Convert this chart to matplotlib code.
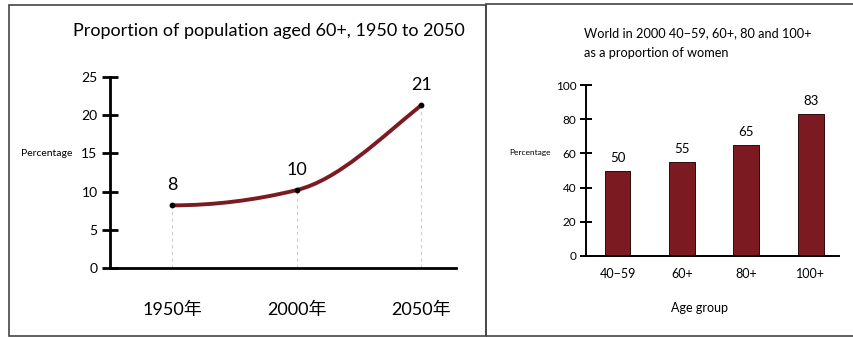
import matplotlib.pyplot as plt
from matplotlib.path import Path
from matplotlib.patches import PathPatch, Rectangle

plt.rcParams['font.family'] = ['Lato', 'Noto Sans CJK SC', 'DejaVu Sans']

# 左图：60岁以上人口比例
years = [1950, 2000, 2050]
year_labels = ["1950年", "2000年", "2050年"]
share_60 = [8.2, 10.2, 21.3]
curve_slopes = [0.0, 0.08, 0.264]  # 曲线在各点的斜率 (每年)

# 右图：女性比例
age_groups = ["40\u221259", "60+", "80+", "100+"]
women_share = [50, 55, 65, 83]

W, H = 854, 337
red = "#7b1b21"
fig = plt.figure(figsize=(W / 100, H / 100), dpi=100)

# 外框
fig.patches.append(Rectangle((9 / W, 1 - 336 / H), 477 / W, 331 / H, transform=fig.transFigure,
                             fill=False, edgecolor="#444444", lw=1.2))
fig.patches.append(Rectangle((486 / W, 1 - 336 / H), 400 / W, 332 / H, transform=fig.transFigure,
                             fill=False, edgecolor="#444444", lw=1.2, clip_on=False))

# ---------- 左图 ----------
ax1 = fig.add_axes([110 / W, 69 / H, 346 / W, 191 / H])
verts = [(years[0], share_60[0])]
codes = [Path.MOVETO]
for i in range(len(years) - 1):
    dt = (years[i + 1] - years[i]) / 3
    verts += [(years[i] + dt, share_60[i] + curve_slopes[i] * dt),
              (years[i + 1] - dt, share_60[i + 1] - curve_slopes[i + 1] * dt),
              (years[i + 1], share_60[i + 1])]
    codes += [Path.CURVE4] * 3
ax1.add_patch(PathPatch(Path(verts, codes), fill=False, edgecolor=red, lw=2.8, capstyle="round", zorder=2))
ax1.vlines(years, 0, share_60, colors="#cccccc", linestyles=(0, (3, 3)), lw=0.8, zorder=1)
ax1.scatter(years, share_60, s=10, color="black", zorder=3)
for x, v in zip(years, share_60):
    ax1.annotate(f"{v:.0f}", xy=(x, v), xytext=(0, 9), textcoords="offset points",
                 ha="center", va="bottom", fontsize=13)
ax1.set_xlim(1925, 2064)
ax1.set_ylim(0, 25)
ax1.set_yticks(range(0, 26, 5))
ax1.set_xticks(years, year_labels, fontsize=13)
ax1.tick_params(axis="x", length=0, pad=24)
ax1.tick_params(axis="y", direction="inout", length=12, width=2, labelsize=10, pad=3)
for s in ["top", "right"]:
    ax1.spines[s].set_visible(False)
for s in ["left", "bottom"]:
    ax1.spines[s].set_linewidth(2)
fig.text(21 / W, 1 - 154 / H, "Percentage", fontsize=7.5, va="center", ha="left")
fig.text(269 / W, 1 - 31 / H, "Proportion of population aged 60+, 1950 to 2050",
         fontsize=13, ha="center", va="center")

# ---------- 右图 ----------
ax2 = fig.add_axes([586 / W, 81 / H, 253 / W, 171 / H])
xs = range(len(age_groups))
ax2.bar(xs, women_share, width=0.4, color=red, edgecolor="#2a0a0c", lw=0.7)
for x, v in zip(xs, women_share):
    ax2.annotate(f"{v}", xy=(x, v), xytext=(0, 5), textcoords="offset points",
                 ha="center", va="bottom", fontsize=9.5)
ax2.set_xlim(-0.49, 3.44)
ax2.set_ylim(0, 100)
ax2.set_yticks(range(0, 101, 20))
ax2.set_xticks(list(xs), age_groups, fontsize=9)
ax2.tick_params(axis="x", length=0, pad=9)
ax2.tick_params(axis="y", direction="inout", length=8, width=1.4, labelsize=8.5, pad=3)
for s in ["top", "right"]:
    ax2.spines[s].set_visible(False)
for s in ["left", "bottom"]:
    ax2.spines[s].set_linewidth(1.4)
fig.text(700 / W, 1 - 308 / H, "Age group", fontsize=9, ha="center", va="center")
fig.text(509 / W, 1 - 152 / H, "Percentage", fontsize=6, va="center", ha="left")
fig.text(584 / W, 1 - 33 / H, "World in 2000 40\u221259, 60+, 80 and 100+", fontsize=9.2, ha="left", va="center")
fig.text(584 / W, 1 - 53 / H, "as a proportion of women", fontsize=9.2, ha="left", va="center")

fig.savefig("out.png", dpi=100)
